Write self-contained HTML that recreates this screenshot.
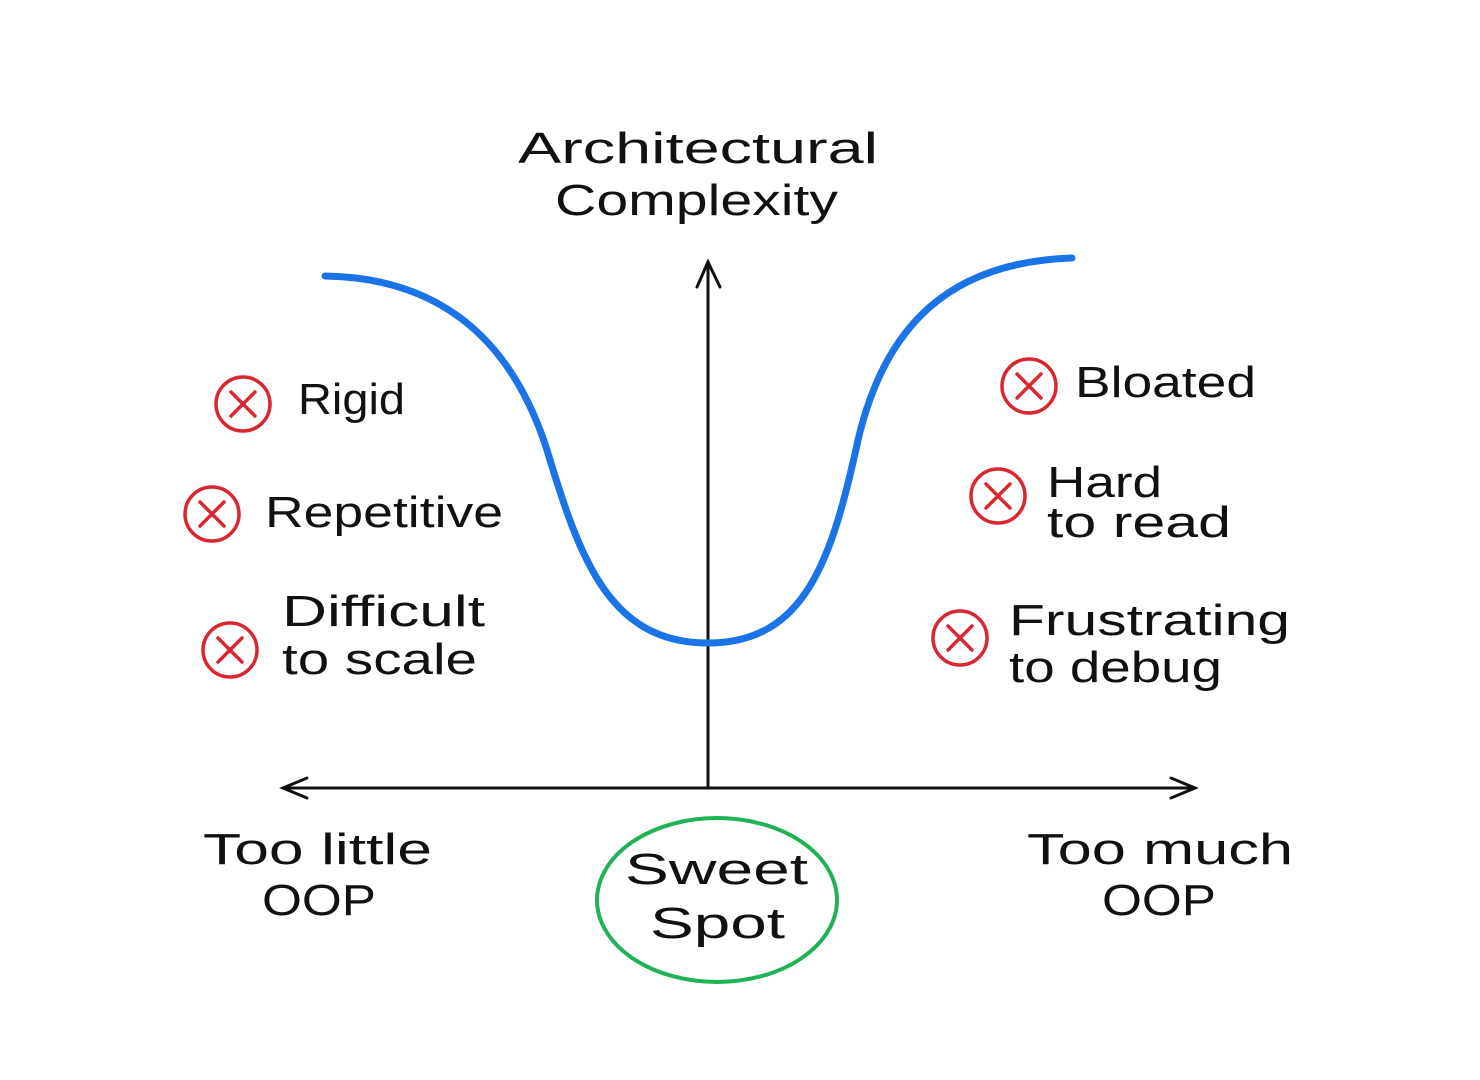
<!DOCTYPE html>
<html><head><meta charset="utf-8"><style>html,body{margin:0;padding:0;background:#fff}svg{display:block}</style></head>
<body>
<svg width="1480" height="1080" viewBox="0 0 1480 1080" xmlns="http://www.w3.org/2000/svg">
<rect width="1480" height="1080" fill="#fff"/>
<g font-family="Liberation Sans, sans-serif" fill="#111" font-size="44" lengthAdjust="spacingAndGlyphs">
<text x="518" y="163" textLength="360" lengthAdjust="spacingAndGlyphs">Architectural</text>
<text x="555" y="215" textLength="283" lengthAdjust="spacingAndGlyphs">Complexity</text>
<text x="298" y="414" textLength="107" lengthAdjust="spacingAndGlyphs">Rigid</text>
<text x="265" y="527" textLength="238" lengthAdjust="spacingAndGlyphs">Repetitive</text>
<text x="282" y="626" textLength="203" lengthAdjust="spacingAndGlyphs">Difficult</text>
<text x="282" y="674" textLength="195" lengthAdjust="spacingAndGlyphs">to scale</text>
<text x="1075" y="397" textLength="181" lengthAdjust="spacingAndGlyphs">Bloated</text>
<text x="1047" y="497" textLength="115" lengthAdjust="spacingAndGlyphs">Hard</text>
<text x="1047" y="537" textLength="184" lengthAdjust="spacingAndGlyphs">to read</text>
<text x="1009" y="635" textLength="281" lengthAdjust="spacingAndGlyphs">Frustrating</text>
<text x="1009" y="682" textLength="213" lengthAdjust="spacingAndGlyphs">to debug</text>
<text x="203" y="864" textLength="229" lengthAdjust="spacingAndGlyphs">Too little</text>
<text x="262" y="915" textLength="114" lengthAdjust="spacingAndGlyphs">OOP</text>
<text x="1027" y="864" textLength="266" lengthAdjust="spacingAndGlyphs">Too much</text>
<text x="1102" y="915" textLength="114" lengthAdjust="spacingAndGlyphs">OOP</text>
<text x="625" y="884" textLength="183" lengthAdjust="spacingAndGlyphs">Sweet</text>
<text x="650" y="938" textLength="135" lengthAdjust="spacingAndGlyphs">Spot</text>
</g>
<g stroke="#111" stroke-width="3" fill="none" stroke-linecap="round">
<line x1="708" y1="262" x2="708" y2="788"/>
<polyline points="697,287 708,262 720,287"/>
<line x1="283" y1="788" x2="1195" y2="788"/>
<polyline points="307,778 283,788 307,798"/>
<polyline points="1171,778 1195,788 1171,798"/>
</g>
<path d="M325,276 C450,278 515,350 547,450 C580,560 610,643 708,643 C805,643 832,560 858,440 C885,325 950,262 1072,258" stroke="#1b73e8" stroke-width="7" fill="none" stroke-linecap="round"/>
<ellipse cx="717" cy="900" rx="120" ry="82" stroke="#1fb356" stroke-width="4" fill="none"/>
<g stroke="#d9262f" stroke-width="3.5" fill="none" stroke-linecap="round">
<circle cx="243" cy="404" r="27"/><path d="M231,392 L255,416 M255,392 L231,416"/>
<circle cx="212" cy="514" r="27"/><path d="M200,502 L224,526 M224,502 L200,526"/>
<circle cx="230" cy="650" r="27"/><path d="M218,638 L242,662 M242,638 L218,662"/>
<circle cx="1029" cy="386" r="27"/><path d="M1017,374 L1041,398 M1041,374 L1017,398"/>
<circle cx="998" cy="496" r="27"/><path d="M986,484 L1010,508 M1010,484 L986,508"/>
<circle cx="960" cy="638" r="27"/><path d="M948,626 L972,650 M972,626 L948,650"/>
</g>
</svg>
</body></html>
